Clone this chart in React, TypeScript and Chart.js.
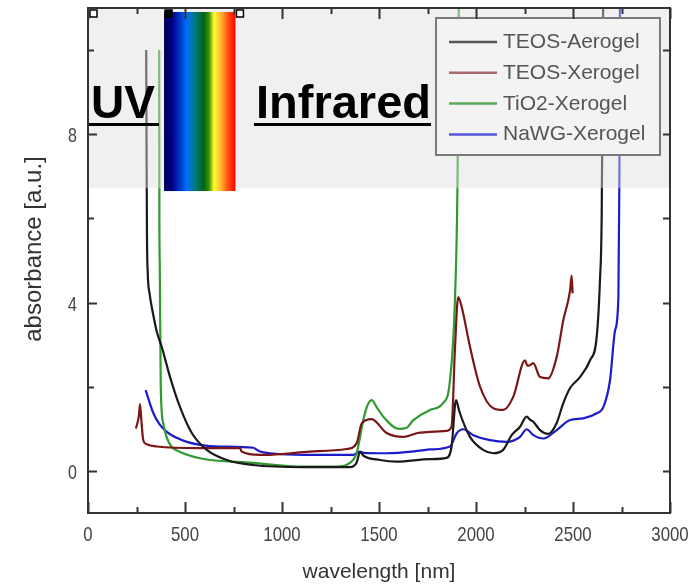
import React, { useEffect, useRef } from "react";
import { Chart, registerables } from "chart.js";
Chart.register(...registerables);

// ---- data ----
const xTickValues = [0, 500, 1000, 1500, 2000, 2500, 3000];
const yTickValues = [0, 4, 8];
const seriesNames = ["TEOS-Aerogel", "TEOS-Xerogel", "TiO2-Xerogel", "NaWG-Xerogel"];
const seriesColors = ["#1a1a1a", "#7b1616", "#2f9a2f", "#1c1ccc"];
const legendColors = ["#555555", "#a86a6a", "#5aa85a", "#5555dd"];
const xTitle = "wavelength [nm]";
const yTitle = "absorbance [a.u.]";

const aerogelNm = [300, 302, 304, 308, 318, 335, 355, 380, 423, 474, 535, 612, 715, 851, 1108, 1350, 1385, 1402, 1420, 1505, 1591, 1763, 1849, 1874, 1897, 1915, 1969, 2037, 2089, 2140, 2184, 2227, 2261, 2278, 2295, 2330, 2372, 2416, 2450, 2485, 2536, 2588, 2622, 2639, 2648, 2656];
const aerogelAbs = [10, 7.5, 5.6, 4.7, 4.2, 3.74, 3.3, 2.95, 2.23, 1.52, 0.9, 0.5, 0.26, 0.14, 0.09, 0.09, 0.2, 0.45, 0.36, 0.26, 0.22, 0.28, 0.31, 0.58, 1.68, 1.4, 0.81, 0.5, 0.42, 0.5, 0.85, 1.05, 1.29, 1.22, 1.17, 0.97, 0.88, 1.14, 1.61, 1.97, 2.23, 2.63, 3.18, 4.53, 6.1, 11.5];

const teosXeroNm = [247, 262, 268, 275, 285, 300, 354, 577, 784, 792, 887, 1000, 1144, 1333, 1385, 1411, 1462, 1539, 1624, 1711, 1849, 1874, 1892, 1908, 1926, 1969, 2021, 2089, 2140, 2192, 2253, 2265, 2278, 2295, 2330, 2372, 2416, 2450, 2485, 2493, 2498];
const teosXeroAbs = [1.01, 1.3, 1.59, 1.2, 0.73, 0.64, 0.58, 0.54, 0.54, 0.46, 0.38, 0.4, 0.46, 0.52, 0.66, 1.13, 1.23, 0.9, 0.81, 0.91, 0.95, 1.05, 2.95, 4.13, 3.9, 2.95, 2.0, 1.49, 1.45, 1.76, 2.63, 2.5, 2.51, 2.56, 2.23, 2.2, 2.71, 3.58, 4.29, 4.64, 4.22];

const tio2Nm = [367, 368, 370, 375, 388, 405, 430, 470, 577, 851, 1108, 1282, 1350, 1385, 1419, 1440, 1462, 1490, 1522, 1600, 1640, 1676, 1763, 1830, 1866, 1892, 1905, 1912];
const tio2Abs = [10, 6, 4.86, 2.0, 1.13, 0.81, 0.58, 0.46, 0.3, 0.19, 0.1, 0.1, 0.19, 0.43, 1.21, 1.55, 1.68, 1.5, 1.29, 1.0, 1.02, 1.2, 1.45, 1.61, 2.16, 4.13, 7, 11.5];

const nawgNm = [297, 337, 370, 406, 460, 509, 577, 680, 852, 870, 887, 938, 1110, 1368, 1402, 1420, 1540, 1711, 1763, 1866, 1900, 1934, 1986, 2072, 2158, 2227, 2261, 2296, 2347, 2416, 2485, 2553, 2622, 2657, 2691, 2717, 2734, 2739, 2742];
const nawgAbs = [1.92, 1.37, 1.1, 0.93, 0.78, 0.69, 0.62, 0.58, 0.55, 0.5, 0.46, 0.42, 0.38, 0.38, 0.46, 0.43, 0.42, 0.48, 0.51, 0.58, 0.89, 0.99, 0.85, 0.73, 0.69, 0.81, 0.99, 0.85, 0.77, 0.97, 1.21, 1.25, 1.37, 1.52, 2.16, 3.34, 4.13, 6.9, 11.5];

const seriesNm = [aerogelNm, teosXeroNm, tio2Nm, nawgNm];
const seriesAbs = [aerogelAbs, teosXeroAbs, tio2Abs, nawgAbs];

const FONT = "Arial, 'Liberation Sans', sans-serif";

// draws horizontally condensed text
function condensed(ctx: any, text: string, px: number, py: number, align: "center" | "right") {
  const k = 0.8;
  ctx.save();
  ctx.translate(px, py);
  ctx.scale(k, 1);
  ctx.textAlign = align;
  ctx.fillText(text, 0, 0);
  ctx.restore();
}

const decorPlugin = {
  id: "decor",
  afterDatasetsDraw(chart: any) {
    const { ctx, chartArea: ca, scales } = chart;
    const x = scales.x;
    const y = scales.y;
    ctx.save();
    // translucent grey band on top
    const yb = y.getPixelForValue(6.72);
    ctx.fillStyle = "rgba(222,222,222,0.45)";
    ctx.fillRect(ca.left, ca.top, ca.right - ca.left, yb - ca.top);

    // legend box
    const lx = ca.left + 348, ly = ca.top + 10, lw = 224, lh = 137;
    ctx.fillStyle = "#f3f3f3";
    ctx.fillRect(lx, ly, lw, lh);
    ctx.strokeStyle = "#7a7a7a";
    ctx.lineWidth = 2;
    ctx.strokeRect(lx, ly, lw, lh);
    ctx.font = "21px " + FONT;
    ctx.textBaseline = "alphabetic";
    ctx.textAlign = "left";
    for (let i = 0; i < seriesNames.length; i++) {
      const ry = ly + 24 + i * 30.8;
      ctx.strokeStyle = legendColors[i];
      ctx.lineWidth = 2.5;
      ctx.beginPath();
      ctx.moveTo(lx + 13, ry);
      ctx.lineTo(lx + 61, ry);
      ctx.stroke();
      ctx.fillStyle = "#555555";
      ctx.fillText(seriesNames[i], lx + 67, ry + 6);
    }

    // visible spectrum strip
    const gx0 = x.getPixelForValue(392), gx1 = x.getPixelForValue(760);
    const gy0 = ca.top + 4, gy1 = y.getPixelForValue(6.65);
    const g = ctx.createLinearGradient(gx0, 0, gx1, 0);
    g.addColorStop(0, "#000050");
    g.addColorStop(0.12, "#00008c");
    g.addColorStop(0.32, "#0070ff");
    g.addColorStop(0.44, "#007878");
    g.addColorStop(0.56, "#006414");
    g.addColorStop(0.63, "#40900a");
    g.addColorStop(0.7, "#ffff30");
    g.addColorStop(0.8, "#ffb030");
    g.addColorStop(0.9, "#ff5010");
    g.addColorStop(1, "#ff0000");
    ctx.fillStyle = g;
    ctx.fillRect(gx0, gy0, gx1 - gx0, gy1 - gy0);

    // handles
    const hs = 7;
    const handles = [ca.left + 2, gx0 + 1, gx1 + 1];
    handles.forEach((hx, i) => {
      ctx.fillStyle = i === 1 ? "#000" : "#fff";
      ctx.fillRect(hx, ca.top + 2, hs, hs);
      ctx.strokeStyle = "#000";
      ctx.lineWidth = 1.5;
      ctx.strokeRect(hx, ca.top + 2, hs, hs);
    });

    // UV / Infrared labels
    ctx.fillStyle = "#000";
    ctx.font = "bold 46px " + FONT;
    ctx.fillText("UV", ca.left + 3, ca.top + 110);
    ctx.fillRect(ca.left, ca.top + 115, 71, 3);
    ctx.font = "bold 47px " + FONT;
    ctx.fillText("Infrared", ca.left + 168, ca.top + 110);
    const irW = ctx.measureText("Infrared").width;
    ctx.fillRect(ca.left + 166, ca.top + 115, irW + 2, 3);
    ctx.restore();
  },
  afterDraw(chart: any) {
    const { ctx, chartArea: ca, scales } = chart;
    const x = scales.x;
    const y = scales.y;
    ctx.save();
    // frame + inward ticks
    ctx.strokeStyle = "#333";
    ctx.lineWidth = 2;
    ctx.strokeRect(ca.left, ca.top, ca.right - ca.left, ca.bottom - ca.top);
    ctx.beginPath();
    for (let v = 0; v <= 3000; v += 250) {
      const px = Math.round(x.getPixelForValue(v)) + 0.5;
      const len = v % 500 === 0 ? 11 : 6;
      ctx.moveTo(px, ca.bottom);
      ctx.lineTo(px, ca.bottom - len);
      ctx.moveTo(px, ca.top);
      ctx.lineTo(px, ca.top + len);
    }
    for (let v = 0; v <= 10; v += 2) {
      const py = Math.round(y.getPixelForValue(v)) + 0.5;
      const len = v % 4 === 0 ? 9 : 6;
      ctx.moveTo(ca.left, py);
      ctx.lineTo(ca.left + len, py);
      ctx.moveTo(ca.right, py);
      ctx.lineTo(ca.right - 7, py);
    }
    ctx.stroke();

    // tick labels (condensed face)
    ctx.fillStyle = "#444";
    ctx.font = "21px " + FONT;
    ctx.textBaseline = "alphabetic";
    xTickValues.forEach((v) => {
      condensed(ctx, String(v), x.getPixelForValue(v), ca.bottom + 28, "center");
    });
    ctx.font = "20px " + FONT;
    yTickValues.forEach((v) => {
      condensed(ctx, String(v), ca.left - 11, y.getPixelForValue(v) + 8, "right");
    });

    // axis titles
    ctx.fillStyle = "#333";
    ctx.font = "21px " + FONT;
    ctx.textAlign = "center";
    ctx.fillText(xTitle, (ca.left + ca.right) / 2, 578);
    ctx.save();
    ctx.translate(41, 249);
    ctx.rotate(-Math.PI / 2);
    ctx.font = "24px " + FONT;
    ctx.fillText(yTitle, 0, 0);
    ctx.restore();
    ctx.restore();
  },
};

export default function App() {
  const ref = useRef<HTMLCanvasElement | null>(null);
  useEffect(() => {
    const canvas = ref.current;
    if (!canvas) return;
    const datasets = seriesNames.map((name, i) => ({
      label: name,
      data: seriesNm[i].map((nm, j) => ({ x: nm, y: seriesAbs[i][j] })),
      borderColor: seriesColors[i],
      backgroundColor: seriesColors[i],
      borderWidth: 2.2,
      pointRadius: 0,
      cubicInterpolationMode: "monotone" as const,
      fill: false,
    }));
    const chart = new Chart(canvas, {
      type: "line",
      data: { datasets },
      plugins: [decorPlugin],
      options: {
        responsive: false,
        animation: false,
        layout: { padding: { top: 8, right: 19, left: 0, bottom: 0 } },
        plugins: { legend: { display: false }, tooltip: { enabled: false } },
        scales: {
          x: {
            type: "linear",
            min: 0,
            max: 3000,
            grid: { display: false },
            border: { display: false },
            ticks: { display: false },
            afterBuildTicks: (s: any) => {
              s.ticks = xTickValues.map((v) => ({ value: v }));
            },
            afterFit: (s: any) => {
              s.height = 72;
              s.paddingLeft = 0;
              s.paddingRight = 0;
            },
          },
          y: {
            type: "linear",
            min: -1,
            max: 11,
            grid: { display: false },
            border: { display: false },
            ticks: { display: false },
            afterBuildTicks: (s: any) => {
              s.ticks = yTickValues.map((v) => ({ value: v }));
            },
            afterFit: (s: any) => {
              s.width = 88;
              s.paddingTop = 0;
              s.paddingBottom = 0;
            },
          },
        },
      },
    });
    return () => chart.destroy();
  }, []);
  return (
    <div style={{ position: "absolute", left: 0, top: 0, width: 689, height: 585, background: "#fff" }}>
      <canvas ref={ref} width={689} height={585} style={{ display: "block" }} />
    </div>
  );
}
